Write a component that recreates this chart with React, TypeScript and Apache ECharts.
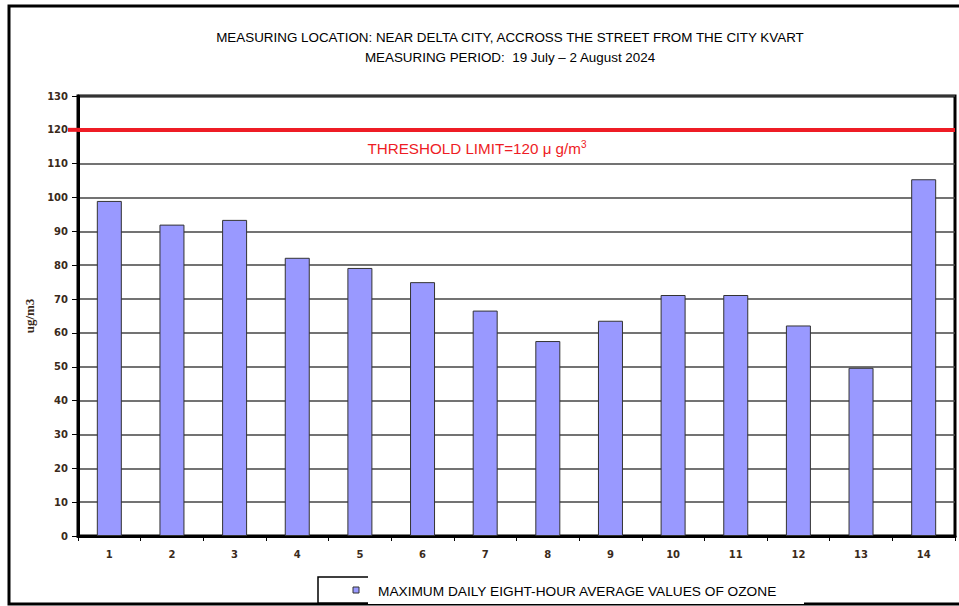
import React, { useEffect, useRef } from "react";
import * as echarts from "echarts";

const categories = ["1", "2", "3", "4", "5", "6", "7", "8", "9", "10", "11", "12", "13", "14"];
const ozoneValues = [99, 92, 93.4, 82.2, 79.2, 75, 66.6, 57.6, 63.6, 71.2, 71.2, 62.2, 49.7, 105.4];
const thresholdValue = 120;
const titleLines = [
  "MEASURING LOCATION: NEAR DELTA CITY, ACCROSS THE STREET FROM THE CITY KVART",
  "MEASURING PERIOD:  19 July \u2013 2 August 2024",
];
const legendLabel = "MAXIMUM DAILY EIGHT-HOUR AVERAGE VALUES OF OZONE";
const yAxisName = "ug/m3";

export default function App() {
  const ref = useRef<HTMLDivElement>(null);
  useEffect(() => {
    if (!ref.current) return;
    const chart = echarts.init(ref.current, null, { renderer: "svg" });
    const labelColor = "#3a2a1a";
    chart.setOption({
      animation: false,
      backgroundColor: "#ffffff",
      grid: {
        left: 78,
        top: 96,
        right: 4,
        bottom: 70,
        show: true,
        borderColor: "#000",
        borderWidth: 3,
        containLabel: false,
      },
      xAxis: {
        type: "category",
        data: categories,
        axisLine: { show: true, lineStyle: { color: "#000", width: 3 } },
        axisTick: { show: true, length: 5, lineStyle: { color: "#000", width: 1 } },
        axisLabel: {
          color: labelColor,
          fontFamily: "DejaVu Sans",
          fontSize: 10,
          fontWeight: "bold",
          margin: 13,
        },
        splitLine: { show: false },
      },
      yAxis: {
        type: "value",
        min: 0,
        max: 130,
        interval: 10,
        name: yAxisName,
        nameLocation: "middle",
        nameGap: 36,
        nameRotate: 90,
        nameTextStyle: {
          color: labelColor,
          fontFamily: "Liberation Serif",
          fontWeight: "bold",
          fontSize: 13,
        },
        axisLine: { show: true, lineStyle: { color: "#000", width: 3 } },
        axisTick: { show: true, length: 6, lineStyle: { color: "#000", width: 1 } },
        axisLabel: {
          color: labelColor,
          fontFamily: "DejaVu Sans",
          fontSize: 10,
          fontWeight: "bold",
          margin: 10,
        },
        splitLine: { show: true, lineStyle: { color: "#444", width: 1.5 } },
      },
      series: [
        {
          type: "bar",
          name: legendLabel,
          data: ozoneValues,
          barWidth: 25,
          itemStyle: { color: "#9999ff", borderColor: "#333", borderWidth: 1 },
          markLine: {
            silent: true,
            symbol: "none",
            label: { show: false },
            lineStyle: { color: "#ee1c25", width: 4, type: "solid" },
            data: [{ yAxis: thresholdValue }],
          },
        },
      ],
      graphic: [
        {
          type: "rect",
          shape: { x: 9, y: 6, width: 1000, height: 598 },
          style: { fill: "none", stroke: "#000", lineWidth: 3 },
          silent: true,
        },
        {
          type: "text",
          x: 510,
          y: 37,
          style: {
            text: titleLines[0],
            fill: "#000",
            font: "13.4px 'Liberation Sans'",
            textAlign: "center",
            textVerticalAlign: "middle",
          },
        },
        {
          type: "text",
          x: 510,
          y: 57,
          style: {
            text: titleLines[1],
            fill: "#000",
            font: "13.4px 'Liberation Sans'",
            textAlign: "center",
            textVerticalAlign: "middle",
          },
        },
        {
          type: "rect",
          shape: { x: 350, y: 133, width: 253, height: 30 },
          style: { fill: "#fff" },
          z: 100,
        },
        {
          type: "text",
          x: 477,
          y: 148,
          z: 101,
          style: {
            text: "THRESHOLD LIMIT=120 \u03bc g/m{s|3}",
            fill: "#ee1c25",
            font: "15.2px 'Liberation Sans'",
            textAlign: "center",
            textVerticalAlign: "middle",
            rich: {
              s: { fontSize: 10, fill: "#ee1c25", verticalAlign: "top", padding: [0, 0, 8, 0] },
            },
          },
        },
        {
          type: "rect",
          shape: { x: 318, y: 577, width: 480, height: 26 },
          style: { fill: "#fff", stroke: "#000", lineWidth: 1.5 },
          z: 100,
        },
        {
          type: "rect",
          shape: { x: 353, y: 587, width: 6, height: 6 },
          style: { fill: "#9999ff", stroke: "#333", lineWidth: 1 },
          z: 101,
        },
        {
          type: "rect",
          shape: { x: 368, y: 575, width: 436, height: 29 },
          style: { fill: "#fff" },
          z: 102,
        },
        {
          type: "text",
          x: 378,
          y: 591,
          z: 103,
          style: {
            text: legendLabel,
            fill: "#000",
            font: "13.7px 'Liberation Sans'",
            textAlign: "left",
            textVerticalAlign: "middle",
          },
        },
      ],
    });
    const yPix = chart.convertToPixel({ yAxisIndex: 0 }, thresholdValue) as number;
    const xPix = chart.convertToPixel({ yAxisIndex: 0 }, 0) as number;
    void xPix;
    chart.setOption({
      graphic: [
        {
          type: "line",
          id: "thresholdStub",
          shape: { x1: 68, y1: yPix, x2: 80, y2: yPix },
          style: { stroke: "#ee1c25", lineWidth: 4 },
          z: 50,
        },
      ],
    });
    return () => chart.dispose();
  }, []);
  return (
    <div
      ref={ref}
      style={{ position: "fixed", left: 0, top: 0, width: 959, height: 606, background: "#fff" }}
    />
  );
}
